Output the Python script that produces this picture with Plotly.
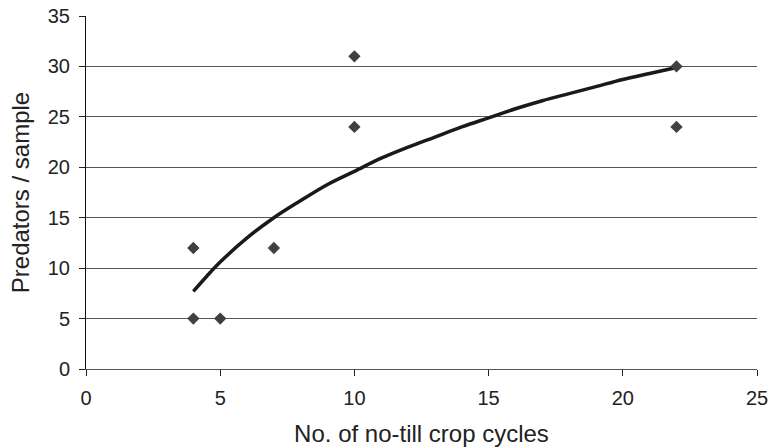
import plotly.graph_objects as go

# Observed data points
cycles = [4, 4, 5, 7, 10, 10, 22, 22]
predators = [5, 12, 5, 12, 24, 31, 30, 24]

# Trend curve
trend_x = [4, 4.5, 5, 6, 7, 8, 9, 10, 11, 12, 13, 14, 15, 16, 17, 18, 19, 20, 21, 22]
trend_y = [7.7, 9.2, 10.6, 13.0, 15.0, 16.7, 18.3, 19.6, 20.9, 22.0, 23.0, 24.0,
           24.9, 25.8, 26.6, 27.3, 28.0, 28.7, 29.3, 29.9]

x_ticks = [0, 5, 10, 15, 20, 25]
y_ticks = [0, 5, 10, 15, 20, 25, 30, 35]

fig = go.Figure()
fig.add_trace(go.Scatter(
    x=trend_x, y=trend_y, mode="lines",
    line=dict(color="#1a1a1a", width=3.5, shape="spline"),
    showlegend=False, hoverinfo="skip"))
fig.add_trace(go.Scatter(
    x=cycles, y=predators, mode="markers",
    marker=dict(symbol="diamond", size=9.5, color="#404040"),
    showlegend=False))

font_family = "Liberation Sans, Arial, sans-serif"
fig.update_layout(
    width=769, height=448,
    margin=dict(l=86, r=12, t=16, b=79),
    paper_bgcolor="white", plot_bgcolor="white",
    font=dict(family=font_family, color="#222222", size=20),
    xaxis=dict(
        range=[0, 25], tickvals=x_ticks, ticktext=[str(v) for v in x_ticks],
        showgrid=False, zeroline=False, automargin=False,
        showline=True, linecolor="#555555", linewidth=1,
        ticks="outside", ticklen=6, tickcolor="#222222", tickwidth=1,
        tickfont=dict(size=20), ticklabelstandoff=5, ticklabeloverflow="allow",
        title=dict(text="No. of no-till crop cycles", font=dict(size=24), standoff=17),
    ),
    yaxis=dict(
        range=[0, 35], tickvals=y_ticks, ticktext=[str(v) for v in y_ticks],
        showgrid=True, gridcolor="#555555", gridwidth=1, zeroline=False, automargin=False,
        showline=True, linecolor="#111111", linewidth=1,
        ticks="outside", ticklen=6, tickcolor="#222222", tickwidth=1,
        tickfont=dict(size=20), ticklabelstandoff=5, ticklabeloverflow="allow",
        title=dict(text="Predators / sample", font=dict(size=24), standoff=11),
    ),
)
fig.write_html(
    "out.html",
    config={"displayModeBar": False},
    post_script="document.body.style.margin='0';document.body.style.overflow='hidden';",
)
